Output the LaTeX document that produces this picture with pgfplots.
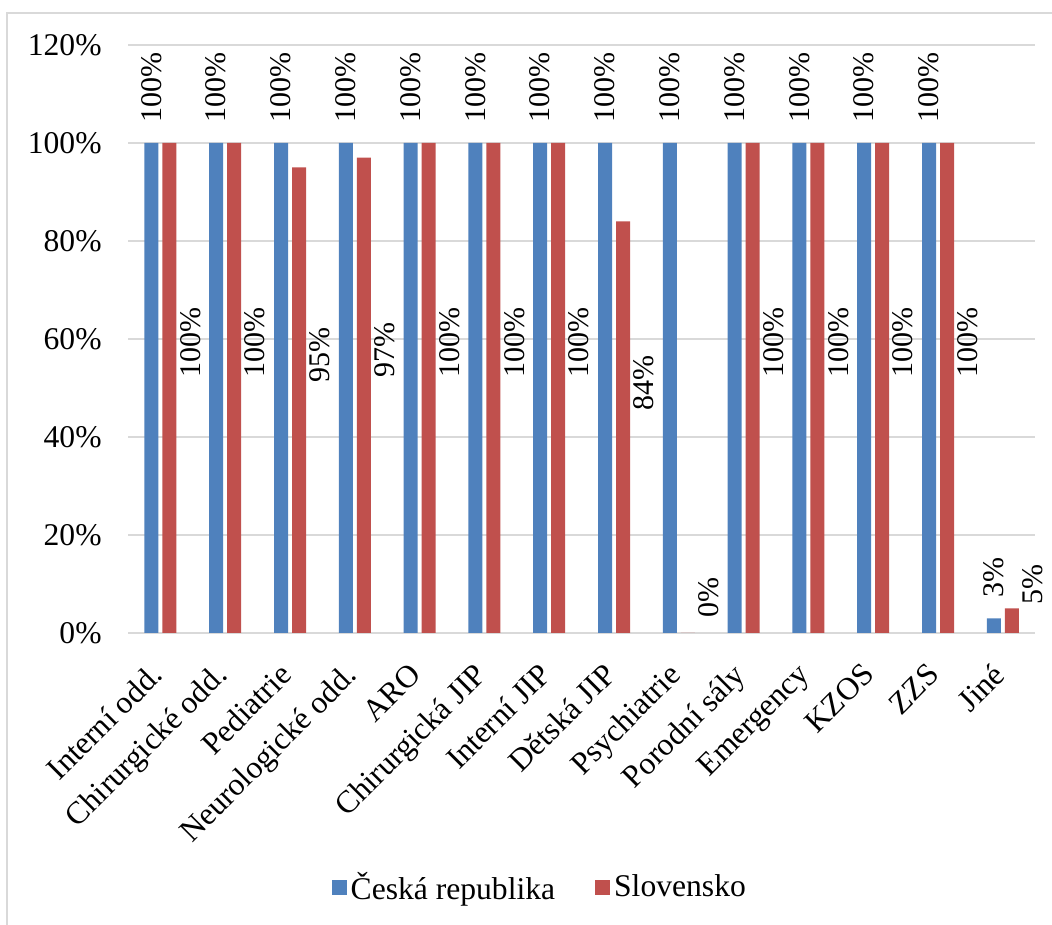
\documentclass[border=0pt]{standalone}
\usepackage{pgfplots}
\pgfplotsset{compat=1.18}
\usepackage{fontspec}
\setmainfont{Liberation Serif}
\definecolor{cz}{HTML}{4F81BD}
\definecolor{sk}{HTML}{C0504D}
\definecolor{gridc}{HTML}{D9D9D9}
\pgfplotsset{sqlegend/.style={legend image code/.code={\fill[##1] (0pt,-3.75pt) rectangle (7.5pt,3.75pt);}}}
\begin{document}
\begin{tikzpicture}[font=\fontsize{15.8}{19}\selectfont]
\useasboundingbox (0,0) rectangle (526pt,462pt);
\draw[gridc, line width=0.8pt] (3.5pt,-1pt) -- (3.5pt,455.5pt) -- (527pt,455.5pt);
\begin{axis}[
  at={(64pt,145.5pt)}, anchor=south west,
  x=32.4pt, y=2.45pt,
  xmin=-0.5, xmax=13.5, ymin=0, ymax=120,
  ybar=2pt, bar width=7pt,
  axis line style={draw=none},
  major tick length=0pt,
  ymajorgrids, major grid style={gridc, line width=0.75pt},
  ytick={0,20,...,120},
  yticklabel={\pgfmathprintnumber[assume math mode=true]{\tick}\%},
  yticklabel style={inner sep=0pt, xshift=-13pt, anchor=east},
  xtick={0,...,13},
  xticklabels={Interní odd., Chirurgické odd., Pediatrie, Neurologické odd., ARO, Chirurgická JIP, Interní JIP, Dětská JIP, Psychiatrie, Porodní sály, Emergency, KZOS, ZZS, Jiné},
  xticklabel style={xshift=-6pt, yshift=-14pt, rotate=45, anchor=north east, inner sep=0pt},
  legend style={at={(0.455,-0.432)}, anchor=center, draw=none, legend columns=2,
    /tikz/every even column/.append style={column sep=18pt}},
]
\addplot[fill=cz, draw=none, sqlegend,
  nodes near coords={\pgfmathprintnumber[assume math mode=true]{\pgfplotspointmeta}\%},
  every node near coord/.append style={yshift=10pt, rotate=90, anchor=west, inner sep=0pt, black, font=\fontsize{15}{18}\selectfont}]
  coordinates {(0,100) (1,100) (2,100) (3,100) (4,100) (5,100) (6,100) (7,100) (8,100) (9,100) (10,100) (11,100) (12,100) (13,3)};
\addplot[fill=sk, draw=none, sqlegend,
  visualization depends on={rawy \as \ry},
  nodes near coords={\pgfmathprintnumber[assume math mode=true]{\pgfplotspointmeta}\%},
  every node near coord/.append style={yshift={(7.3-0.48*\ry)*2.45}, xshift=10.5pt, rotate=90, anchor=center, inner sep=0pt, black, font=\fontsize{15}{18}\selectfont}]
  coordinates {(0,100) (1,100) (2,95) (3,97) (4,100) (5,100) (6,100) (7,84) (8,0) (9,100) (10,100) (11,100) (12,100) (13,5)};
\legend{Česká republika, Slovensko}
\end{axis}
\end{tikzpicture}
\end{document}
